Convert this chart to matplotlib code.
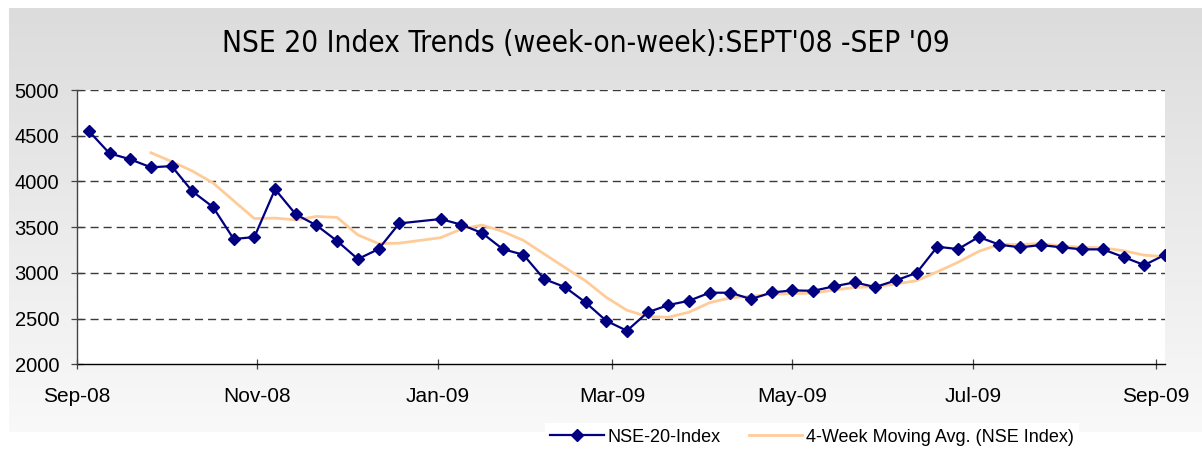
import matplotlib
matplotlib.use("Agg")
import matplotlib.pyplot as plt
import matplotlib.dates as mdates
import numpy as np
import pandas as pd

# ---- data ----
week_dates = [d for d in pd.date_range("2008-09-05", "2009-09-04", freq="7D")
              if d != pd.Timestamp("2008-12-26")]
nse_index = [4551, 4307, 4242, 4154, 4168, 3892, 3720, 3370, 3392, 3914,
             3640, 3520, 3348, 3151, 3260, 3541, 3589, 3527, 3436, 3260,
             3198, 2932, 2845, 2677, 2476, 2367, 2568, 2648, 2695, 2783,
             2783, 2713, 2786, 2808, 2804, 2852, 2896, 2845, 2918, 3000,
             3286, 3260, 3392, 3308, 3279, 3304, 3279, 3257, 3257, 3173,
             3085, 3198]
# 4-week moving average (starts at 4th week)
moving_avg = [4314, 4218, 4114, 3984, 3788, 3594, 3599, 3579, 3617, 3606,
              3415, 3320, 3325, 3385, 3479, 3523, 3453, 3355, 3207, 3059,
              2913, 2733, 2591, 2522, 2515, 2570, 2674, 2727, 2744, 2766,
              2773, 2778, 2813, 2840, 2849, 2878, 2915, 3012, 3116, 3235,
              3312, 3310, 3321, 3293, 3280, 3274, 3242, 3193, 3178]
ma_dates = week_dates[3:]
y_ticks = [2000, 2500, 3000, 3500, 4000, 4500, 5000]
title = "NSE 20 Index Trends (week-on-week):SEPT'08 -SEP '09"
series_labels = ["NSE-20-Index", "4-Week Moving Avg. (NSE Index)"]

W, H = 1202, 449
fig = plt.figure(figsize=(W / 100, H / 100), dpi=100)
fig.patch.set_facecolor("white")

# gradient chart-area background
bg = fig.add_axes([9 / W, (H - 432) / H, (W - 9) / W, 424 / H], zorder=0)
grad = np.linspace(220, 249, 256)[:, None] / 255.0
bg.imshow(np.dstack([grad, grad, grad]), aspect="auto", extent=[0, 1, 0, 1])
bg.set_axis_off()

left, right, top, bottom = 77, 1165, 90, 364.3
ax = fig.add_axes([left / W, (H - bottom) / H, (right - left) / W, (bottom - top) / H], zorder=1)
ax.set_facecolor("white")

l1, = ax.plot(week_dates, nse_index, color="#000080", lw=1.6, marker="D",
              ms=5.8, mec="#000080", mfc="#000080", zorder=4, label=series_labels[0])
l2, = ax.plot(ma_dates, moving_avg, color="#FFCC99", lw=2.0, zorder=3,
              label=series_labels[1])

ax.set_ylim(2000, 5000)
ax.set_xlim(pd.Timestamp("2008-09-01"), pd.Timestamp("2009-09-04"))
ax.set_yticks(y_ticks)
ax.xaxis.set_major_locator(mdates.MonthLocator(bymonth=[1, 3, 5, 7, 9, 11], bymonthday=1))
ax.xaxis.set_major_formatter(mdates.DateFormatter("%b-%y"))

for v in y_ticks[1:]:
    ax.axhline(v, color="#3a3a3a", lw=1.0, dashes=(5.8, 3.6), zorder=2)

for s in ["top", "right"]:
    ax.spines[s].set_visible(False)
ax.spines["left"].set_color("#444444")
ax.spines["bottom"].set_color("black")
ax.spines["left"].set_linewidth(1.0)
ax.spines["bottom"].set_linewidth(1.0)
ax.spines["left"].set_zorder(5)

tick_font = "Liberation Sans"
ax.tick_params(axis="y", direction="inout", length=8.6, width=0.9, color="#444444",
               pad=8.5, labelsize=14.5)
ax.tick_params(axis="x", direction="inout", length=7.2, width=0.9, color="#444444",
               pad=12.5, labelsize=15)
for lab in ax.get_xticklabels() + ax.get_yticklabels():
    lab.set_fontfamily(tick_font)

fig.text(586 / W, (H - 44) / H, title, ha="center", va="center",
         fontsize=21.3, family="DejaVu Sans", fontstretch="condensed", color="black")

leg = fig.legend(handles=[l1, l2], loc="center", bbox_to_anchor=(812 / W, 12 / H),
                 ncol=2, frameon=True, fancybox=False, facecolor="white",
                 edgecolor="none", framealpha=1, handlelength=2.95, handletextpad=0.22,
                 columnspacing=1.55, borderpad=0.3, prop={"family": tick_font, "size": 13})
leg.set_zorder(3)

fig.savefig("out.png", dpi=100, facecolor="white")
